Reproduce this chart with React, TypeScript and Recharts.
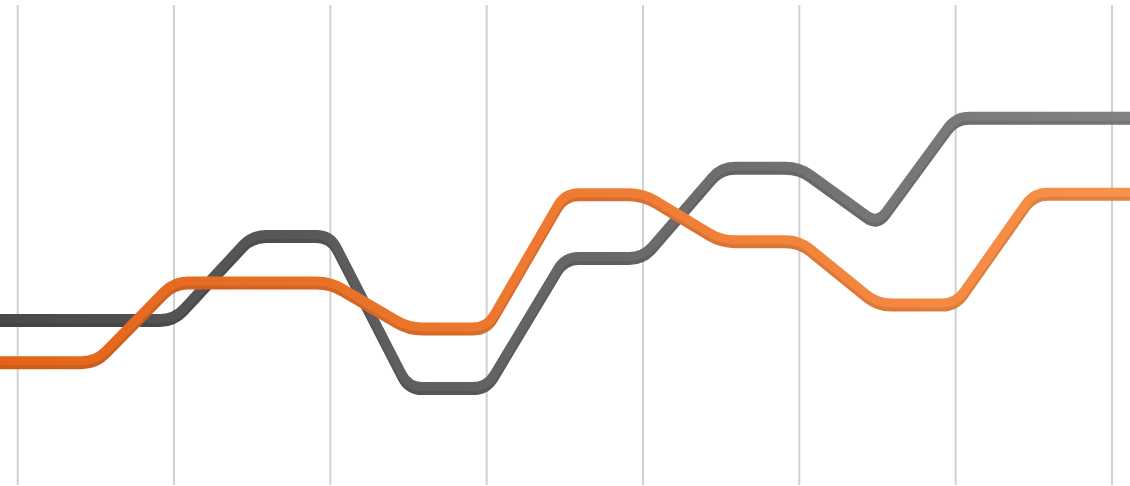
import { CartesianGrid, Line, LineChart, XAxis, YAxis } from "recharts";

// half-step positions; gridlines sit on the even ones
const steps = [-1, 0, 1, 2, 3, 4, 5, 6, 7, 8, 9, 10, 11, 12, 13, 14, 15];
const gridTicks = [0, 2, 4, 6, 8, 10, 12, 14];

const graySeries = [34.7, 34.7, 34.7, 34.7, 52.2, 52.2, 20.5, 20.5, 47.6, 47.6, 66.4, 66.4, 54.6, 76.8, 76.8, 76.8, 76.8];
const orangeSeries = [25.9, 25.9, 25.9, 42.5, 42.5, 42.5, 32.9, 32.9, 60.9, 60.9, 51.1, 51.1, 37.9, 37.9, 61.0, 61.0, 61.0];

const data = steps.map((x, i) => ({ x, gray: graySeries[i], orange: orangeSeries[i] }));

const X_DOMAIN: [number, number] = [-0.2265, 14.2303];
const CORNER = 14;

// straight segments with rounded corners
const roundedCorners = (context: any) => {
  let pts: [number, number][] = [];
  return {
    areaStart() {},
    areaEnd() {},
    lineStart() {
      pts = [];
    },
    point(x: number, y: number) {
      pts.push([+x, +y]);
    },
    lineEnd() {
      if (pts.length === 0) return;
      context.moveTo(pts[0][0], pts[0][1]);
      for (let i = 1; i < pts.length - 1; i++) {
        const [px, py] = pts[i - 1];
        const [cx, cy] = pts[i];
        const [nx, ny] = pts[i + 1];
        const d1 = Math.hypot(cx - px, cy - py);
        const d2 = Math.hypot(nx - cx, ny - cy);
        const r = Math.min(CORNER, d1 / 2, d2 / 2);
        if (r <= 0) {
          context.lineTo(cx, cy);
          continue;
        }
        context.lineTo(cx + ((px - cx) / d1) * r, cy + ((py - cy) / d1) * r);
        context.quadraticCurveTo(cx, cy, cx + ((nx - cx) / d2) * r, cy + ((ny - cy) / d2) * r);
      }
      if (pts.length > 1) {
        const last = pts[pts.length - 1];
        context.lineTo(last[0], last[1]);
      }
    },
  };
};

// vertical gridlines only at the listed ticks
const gridX = ({ offset }: any) =>
  gridTicks.map(
    (t) => offset.left + ((t - X_DOMAIN[0]) / (X_DOMAIN[1] - X_DOMAIN[0])) * offset.width
  );

export default function App() {
  return (
    <div style={{ position: "fixed", left: 0, top: 0, width: 1130, height: 486, background: "#fff" }}>
      <LineChart width={1130} height={486} data={data} margin={{ top: 5, right: 0, bottom: 1, left: 0 }}>
        <defs>
          <linearGradient id="grayStroke" gradientUnits="userSpaceOnUse" x1="0" y1="0" x2="1130" y2="0">
            <stop offset="0" stopColor="#4a4a4a" />
            <stop offset="1" stopColor="#828282" />
          </linearGradient>
          <linearGradient id="orangeStroke" gradientUnits="userSpaceOnUse" x1="0" y1="0" x2="1130" y2="0">
            <stop offset="0" stopColor="#e3641a" />
            <stop offset="1" stopColor="#f8914a" />
          </linearGradient>
          <filter id="lineShadow" filterUnits="userSpaceOnUse" x="0" y="0" width="1130" height="486">
            <feOffset in="SourceGraphic" dy="3.5" result="off" />
            <feColorMatrix
              in="off"
              type="matrix"
              values="0.8 0 0 0 0  0 0.8 0 0 0  0 0 0.8 0 0  0 0 0 1 0"
              result="dark"
            />
            <feMerge>
              <feMergeNode in="dark" />
              <feMergeNode in="SourceGraphic" />
            </feMerge>
          </filter>
        </defs>
        <CartesianGrid
          vertical
          horizontal={false}
          stroke="#d0d0d0"
          strokeWidth={2}
          verticalCoordinatesGenerator={gridX}
        />
        <XAxis dataKey="x" type="number" domain={X_DOMAIN} ticks={gridTicks} allowDataOverflow hide />
        <YAxis type="number" domain={[0, 100]} allowDataOverflow hide />
        <Line
          dataKey="gray"
          type={roundedCorners as any}
          stroke="url(#grayStroke)"
          strokeWidth={9}
          strokeLinejoin="round"
          filter="url(#lineShadow)"
          dot={false}
          activeDot={false}
          isAnimationActive={false}
        />
        <Line
          dataKey="orange"
          type={roundedCorners as any}
          stroke="url(#orangeStroke)"
          strokeWidth={9}
          strokeLinejoin="round"
          filter="url(#lineShadow)"
          dot={false}
          activeDot={false}
          isAnimationActive={false}
        />
      </LineChart>
    </div>
  );
}
